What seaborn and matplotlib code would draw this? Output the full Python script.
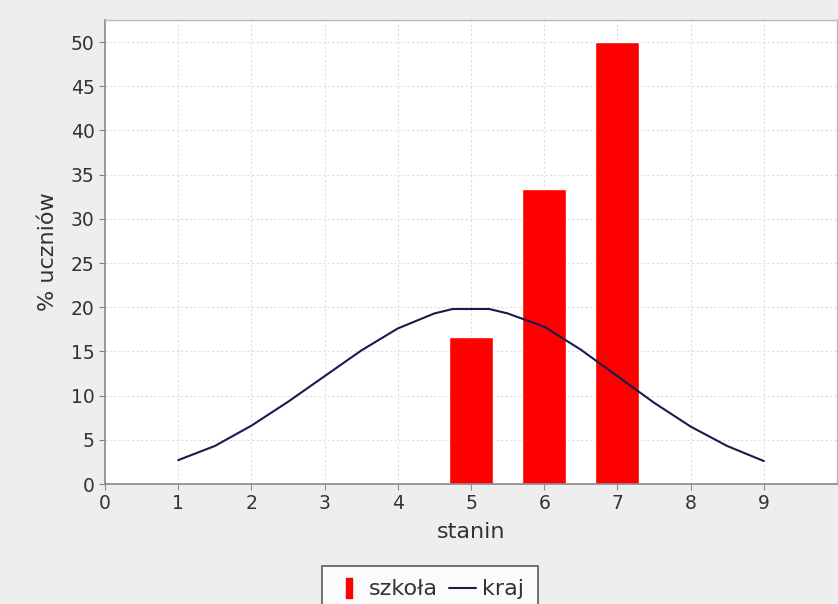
import numpy as np
import pandas as pd
import matplotlib
matplotlib.use('Agg')
import matplotlib.pyplot as plt
import seaborn as sns
from matplotlib.lines import Line2D

# Dane: wyniki szkoły (słupki) i rozkład krajowy (linia)
stanin_szkola = [5, 6, 7]
procent_szkola = [16.67, 33.33, 50.0]

stanin_kraj = [1, 1.5, 2, 2.5, 3, 3.5, 4, 4.5, 4.75, 5.25, 5.5, 6, 6.5, 7, 7.5, 8, 8.5, 9]
procent_kraj = [2.7, 4.3, 6.6, 9.3, 12.2, 15.1, 17.6, 19.3, 19.8, 19.8, 19.3, 17.8, 15.2, 12.2, 9.2, 6.5, 4.3, 2.6]

x_ticks = list(range(0, 10))
y_ticks = list(range(0, 55, 5))

df_szkola = pd.DataFrame({'stanin': stanin_szkola, 'procent': procent_szkola})
df_kraj = pd.DataFrame({'stanin': stanin_kraj, 'procent': procent_kraj})

sns.set_style('white')
plt.rcParams['font.family'] = ['DejaVu Sans']
text_color = '#333333'

fig = plt.figure(figsize=(8.38, 6.04), dpi=100, facecolor='#eeeeee')
ax = fig.add_axes([105 / 838, 1 - 484 / 604, 732 / 838, 464 / 604])
ax.set_facecolor('white')

# Słupki szkoły
sns.barplot(data=df_szkola, x='stanin', y='procent', native_scale=True,
            width=0.6, color='#ff0000', saturation=1, ax=ax, zorder=2)
# Linia krajowa
sns.lineplot(data=df_kraj, x='stanin', y='procent', color='#1a1a4e',
             linewidth=1.5, ax=ax, zorder=3)

ax.set_xlim(0, 10)
ax.set_ylim(0, 52.5)
ax.set_xticks(x_ticks)
ax.set_yticks(y_ticks)
ax.tick_params(axis='both', labelsize=13.5, colors='#888888', labelcolor=text_color,
               direction='out', length=4, width=0.8, left=True, bottom=True)

ax.grid(True, color='#dddddd', linestyle=(0, (2, 2)), linewidth=0.8, zorder=0)
ax.set_axisbelow(True)

for side in ['left', 'bottom']:
    ax.spines[side].set_color('#888888')
    ax.spines[side].set_linewidth(1.2)
for side in ['top', 'right']:
    ax.spines[side].set_color('#bbbbbb')
    ax.spines[side].set_linewidth(1.0)

ax.set_xlabel('stanin', fontsize=16, color=text_color, labelpad=6)
ax.set_ylabel('% uczniów', fontsize=16, color=text_color, labelpad=9)

# Legenda na dole
rect_marker = [(-0.35, -1), (0.35, -1), (0.35, 1), (-0.35, 1), (-0.35, -1)]
handles = [
    Line2D([], [], linestyle='none', marker=rect_marker, markersize=14,
           markerfacecolor='#ff0000', markeredgecolor='#ff0000'),
    Line2D([], [], color='#1a1a4e', linewidth=1.5),
]
leg = fig.legend(handles, ['szkoła', 'kraj'], loc='upper center',
                 bbox_to_anchor=(430 / 838, 1 - 566 / 604), ncol=2,
                 fontsize=16, frameon=True, fancybox=False, handlelength=1.2,
                 handletextpad=0.3, columnspacing=0.5, borderpad=0.6,
                 borderaxespad=0)
leg.get_frame().set_edgecolor('#333333')
leg.get_frame().set_linewidth(1.2)
leg.get_frame().set_facecolor('white')
for t in leg.get_texts():
    t.set_color(text_color)

fig.savefig('out.png', dpi=100, facecolor=fig.get_facecolor())
